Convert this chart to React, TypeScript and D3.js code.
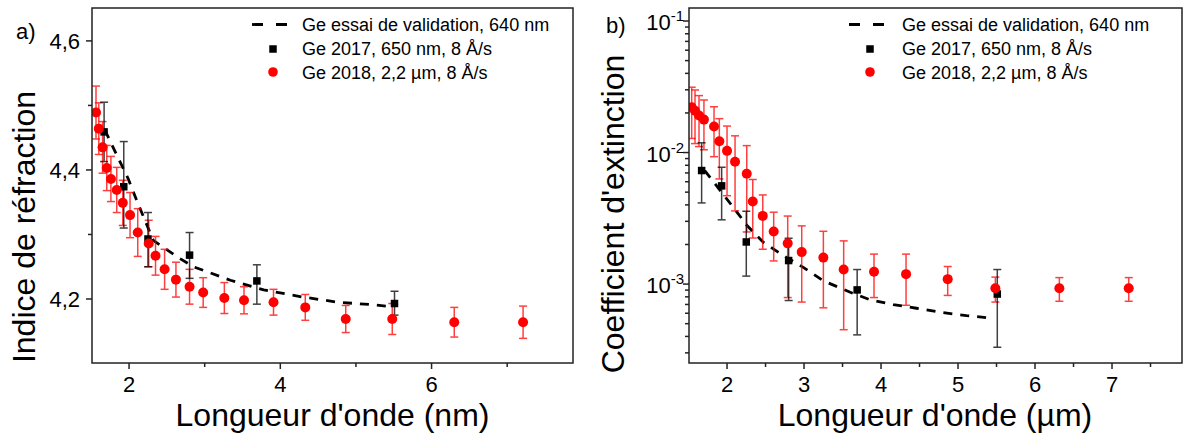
import React from "react";
import * as d3 from "d3";

// ---------- data ----------
// Panel a) refractive index
const redXA = [1.563, 1.6, 1.65, 1.705, 1.76, 1.837, 1.917, 2.013, 2.115, 2.26, 2.35, 2.47, 2.62, 2.8, 2.98, 3.26, 3.52, 3.91, 4.33, 4.865, 5.48, 6.3, 7.21];
const redNA = [4.489, 4.464, 4.435, 4.403, 4.386, 4.369, 4.349, 4.33, 4.303, 4.286, 4.267, 4.246, 4.23, 4.219, 4.21, 4.2015, 4.198, 4.195, 4.187, 4.169, 4.169, 4.164, 4.164];
const redErrA = [0.041, 0.04, 0.04, 0.035, 0.035, 0.035, 0.035, 0.035, 0.037, 0.036, 0.03, 0.031, 0.027, 0.027, 0.023, 0.024, 0.021, 0.02, 0.02, 0.021, 0.024, 0.023, 0.025];

const blackX = [1.67, 1.93, 2.25, 2.8, 3.69, 5.51];
const blackNA = [4.459, 4.374, 4.293, 4.268, 4.228, 4.193];
const blackLoA = [4.413, 4.31, 4.25, 4.232, 4.192, 4.175];
const blackHiA = [4.505, 4.444, 4.334, 4.303, 4.253, 4.212];

const dashXA = [1.68, 1.72, 1.85, 1.99, 2.1, 2.32, 2.64, 2.85, 3.34, 3.78, 4.3, 4.76, 5.23, 5.46];
const dashNA = [4.462, 4.452, 4.42, 4.386, 4.353, 4.291, 4.265, 4.25, 4.229, 4.214, 4.203, 4.195, 4.191, 4.188];

// Panel b) extinction coefficient
const redXB = [1.541, 1.584, 1.636, 1.7, 1.831, 1.9, 2.0, 2.104, 2.256, 2.334, 2.464, 2.606, 2.788, 2.97, 3.251, 3.515, 3.909, 4.325, 4.866, 5.485, 6.316, 7.217];
const redKB = [0.0221, 0.0208, 0.0191, 0.0178, 0.0158, 0.0122, 0.0103, 0.0085, 0.00689, 0.00424, 0.0033, 0.00251, 0.00204, 0.00175, 0.00159, 0.00129, 0.00124, 0.00119, 0.00109, 0.00093, 0.00093, 0.00093];
const redErrB = [0.0093, 0.0091, 0.008, 0.0073, 0.0065, 0.0059, 0.0056, 0.0049, 0.0044, 0.002, 0.00146, 0.00101, 0.00125, 0.00102, 0.00093, 0.00084, 0.00045, 0.0005, 0.00027, 0.0002, 0.00019, 0.00019];

const blackKB = [0.0073, 0.00558, 0.00209, 0.00151, 0.000903, 0.00084];
const blackLoB = [0.00414, 0.00308, 0.00115, 0.00075, 0.000411, 0.000331];
const blackHiB = [0.01186, 0.00773, 0.00358, 0.00223, 0.00129, 0.00129];

const dashXB = [1.71, 2.08, 2.26, 2.47, 2.73, 2.99, 3.25, 3.6, 3.86, 4.16, 4.46, 4.77, 5.11, 5.46];
const dashKB = [0.0073, 0.00384, 0.00279, 0.00208, 0.00165, 0.00134, 0.00106, 0.000867, 0.000759, 0.000698, 0.000655, 0.000611, 0.000576, 0.000549];

// ticks & labels
const xTicksA = [2, 4, 6];
const xMinorA = [3, 5, 7];
const yTicksA = [4.2, 4.4, 4.6];
const yTickLabelsA = ["4,2", "4,4", "4,6"];
const yMinorA = [4.3, 4.5];

const xTicksB = [2, 3, 4, 5, 6, 7];
const xMinorB = [2.5, 3.5, 4.5, 5.5, 6.5, 7.5];
const yTicksB = [1e-3, 1e-2, 1e-1];
const yTickExpB = ["-3", "-2", "-1"];

const legendLabels = ["Ge essai de validation, 640 nm", "Ge 2017, 650 nm, 8 Å/s", "Ge 2018, 2,2 µm, 8 Å/s"];
const xTitleA = "Longueur d'onde (nm)";
const xTitleB = "Longueur d'onde (µm)";
const yTitleA = "Indice de réfraction";
const yTitleB = "Coefficient d'extinction";

const FONT = "Arial, 'Liberation Sans', Helvetica, sans-serif";
const RED = "#ff0000";

function ErrorBar({ x, y0, y1, color, opacity }: { x: number; y0: number; y1: number; color: string; opacity: number }) {
  const c = 4;
  return (
    <g stroke={color} strokeWidth={1.5} opacity={opacity}>
      <line x1={x} x2={x} y1={y0} y2={y1} />
      <line x1={x - c} x2={x + c} y1={y0} y2={y0} />
      <line x1={x - c} x2={x + c} y1={y1} y2={y1} />
    </g>
  );
}

function Legend({ x, sx }: { x: number; sx: number }) {
  const rows = [30.5, 55, 79];
  return (
    <g fontFamily={FONT} fontSize={18}>
      <line x1={sx} x2={sx + 35} y1={rows[0] - 6} y2={rows[0] - 6} stroke="#000" strokeWidth={2.8} strokeDasharray="11 13" />
      <rect x={sx + 21 - 3.75} y={rows[1] - 6 - 3.75} width={7.5} height={7.5} fill="#000" />
      <circle cx={sx + 21} cy={rows[2] - 7} r={4.8} fill={RED} />
      {legendLabels.map((t, i) => (
        <text key={i} x={x} y={rows[i]} fill="#000">{t}</text>
      ))}
    </g>
  );
}

function PanelA() {
  const L = 92, R = 573, T = 8, B = 363;
  const xs = d3.scaleLinear().domain([1.51, 7.87]).range([L, R]);
  const ys = d3.scaleLinear().domain([4.1008, 4.651]).range([B, T]);
  const line = d3.line<number>().x((d, i) => xs(dashXA[i])).y((d) => ys(d));
  return (
    <g>
      <defs>
        <clipPath id="clipA"><rect x={L} y={T} width={R - L} height={B - T} /></clipPath>
      </defs>
      <g clipPath="url(#clipA)">
        <path d={line(dashNA) || ""} fill="none" stroke="#000" strokeWidth={2.8} strokeDasharray="9 8" />
        {redXA.map((x, i) => (
          <ErrorBar key={"re" + i} x={xs(x)} y0={ys(redNA[i] + redErrA[i])} y1={ys(redNA[i] - redErrA[i])} color={RED} opacity={0.75} />
        ))}
        {blackX.map((x, i) => (
          <ErrorBar key={"be" + i} x={xs(x)} y0={ys(blackHiA[i])} y1={ys(blackLoA[i])} color="#000" opacity={0.75} />
        ))}
        {blackX.map((x, i) => (
          <rect key={"bs" + i} x={xs(x) - 3.75} y={ys(blackNA[i]) - 3.75} width={7.5} height={7.5} fill="#000" />
        ))}
        {redXA.map((x, i) => (
          <circle key={"rc" + i} cx={xs(x)} cy={ys(redNA[i])} r={5} fill={RED} />
        ))}
      </g>
      <rect x={L} y={T} width={R - L} height={B - T} fill="none" stroke="#222" strokeWidth={1.5} />
      <g stroke="#222" strokeWidth={1.5}>
        {xTicksA.map((t) => <line key={"xt" + t} x1={xs(t)} x2={xs(t)} y1={B} y2={B + 6} />)}
        {xMinorA.map((t) => <line key={"xm" + t} x1={xs(t)} x2={xs(t)} y1={B} y2={B + 4} />)}
        {yTicksA.map((t) => <line key={"yt" + t} x1={L - 6} x2={L} y1={ys(t)} y2={ys(t)} />)}
        {yMinorA.map((t) => <line key={"ym" + t} x1={L - 4} x2={L} y1={ys(t)} y2={ys(t)} />)}
      </g>
      <g fontFamily={FONT} fontSize={22} fill="#000">
        {xTicksA.map((t) => <text key={"xl" + t} x={xs(t)} y={392} textAnchor="middle">{t}</text>)}
        {yTicksA.map((t, i) => <text key={"yl" + t} x={80} y={ys(t) + 8} textAnchor="end">{yTickLabelsA[i]}</text>)}
        <text x={16} y={39}>a)</text>
      </g>
      <g fontFamily={FONT} fontSize={32} fill="#000">
        <text x={(L + R) / 2} y={426} textAnchor="middle">{xTitleA}</text>
        <text transform={`translate(35,227) rotate(-90)`} textAnchor="middle">{yTitleA}</text>
      </g>
      <Legend x={302} sx={252} />
    </g>
  );
}

function PanelB() {
  const L = 689, R = 1182, T = 8, B = 363;
  const xs = d3.scaleLinear().domain([1.506, 7.909]).range([L, R]);
  const ys = d3.scaleLog().domain([Math.pow(10, -3.6), Math.pow(10, -0.901)]).range([B, T]);
  const line = d3.line<number>().x((d, i) => xs(dashXB[i])).y((d) => ys(d));
  const minor: number[] = [];
  [1e-4, 1e-3, 1e-2].forEach((dec) => {
    for (let m = 2; m <= 9; m++) {
      const v = dec * m;
      if (v > ys.domain()[0] && v < ys.domain()[1]) minor.push(v);
    }
  });
  return (
    <g>
      <defs>
        <clipPath id="clipB"><rect x={L} y={T} width={R - L} height={B - T} /></clipPath>
      </defs>
      <g clipPath="url(#clipB)">
        <path d={line(dashKB) || ""} fill="none" stroke="#000" strokeWidth={2.8} strokeDasharray="9 8" />
        {redXB.map((x, i) => (
          <ErrorBar key={"re" + i} x={xs(x)} y0={ys(redKB[i] + redErrB[i])} y1={ys(Math.max(redKB[i] - redErrB[i], 1e-5))} color={RED} opacity={0.75} />
        ))}
        {blackX.map((x, i) => (
          <ErrorBar key={"be" + i} x={xs(x)} y0={ys(blackHiB[i])} y1={ys(blackLoB[i])} color="#000" opacity={0.75} />
        ))}
        {blackX.map((x, i) => (
          <rect key={"bs" + i} x={xs(x) - 3.75} y={ys(blackKB[i]) - 3.75} width={7.5} height={7.5} fill="#000" />
        ))}
        {redXB.map((x, i) => (
          <circle key={"rc" + i} cx={xs(x)} cy={ys(redKB[i])} r={5} fill={RED} />
        ))}
      </g>
      <rect x={L} y={T} width={R - L} height={B - T} fill="none" stroke="#222" strokeWidth={1.5} />
      <g stroke="#222" strokeWidth={1.5}>
        {xTicksB.map((t) => <line key={"xt" + t} x1={xs(t)} x2={xs(t)} y1={B} y2={B + 6} />)}
        {xMinorB.map((t) => <line key={"xm" + t} x1={xs(t)} x2={xs(t)} y1={B} y2={B + 4} />)}
        {yTicksB.map((t) => <line key={"yt" + t} x1={L - 6} x2={L} y1={ys(t)} y2={ys(t)} />)}
        {minor.map((t) => <line key={"ym" + t} x1={L - 4} x2={L} y1={ys(t)} y2={ys(t)} />)}
      </g>
      <g fontFamily={FONT} fontSize={22} fill="#000">
        {xTicksB.map((t) => <text key={"xl" + t} x={xs(t)} y={392} textAnchor="middle">{t}</text>)}
        {yTicksB.map((t, i) => (
          <text key={"yl" + t} x={684} y={ys(t) + 9} textAnchor="end">
            <tspan>10</tspan>
            <tspan dy={-9} fontSize={15}>{yTickExpB[i]}</tspan>
          </text>
        ))}
        <text x={606} y={33}>b)</text>
      </g>
      <g fontFamily={FONT} fontSize={32} fill="#000">
        <text x={935} y={426} textAnchor="middle">{xTitleB}</text>
        <text transform={`translate(624,214) rotate(-90)`} textAnchor="middle">{yTitleB}</text>
      </g>
      <Legend x={902} sx={849} />
    </g>
  );
}

export default function App() {
  return (
    <svg width={1184} height={433} style={{ position: "absolute", left: 0, top: 0, background: "#fff" }}>
      <rect width={1184} height={433} fill="#fff" />
      <PanelA />
      <PanelB />
    </svg>
  );
}
